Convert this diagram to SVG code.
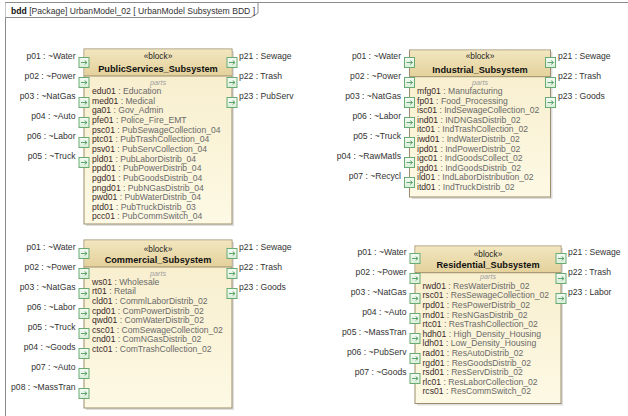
<svg xmlns="http://www.w3.org/2000/svg" width="628" height="416" viewBox="0 0 628 416">
<style>
text{font-family:"Liberation Sans",Arial,sans-serif;font-size:8.6px;fill:#333}
.r{text-anchor:end}
.st{font-size:8.3px;text-anchor:middle;fill:#222}
.nm{font-size:9.2px;font-weight:bold;text-anchor:middle;fill:#111}
.pt{font-size:7.2px;font-style:italic;text-anchor:middle;fill:#a0a0a0}
.prt{fill:#6a6a6a}
.pn{fill:#3b2a2a}
.body{fill:url(#bodyG);stroke:#9c8d6c;stroke-width:1}
.head{fill:url(#headG)}
.sep{stroke:#9c8d6c;stroke-width:1}
.shadow{fill:#000;opacity:.13}
.frame{fill:none;stroke:#8c8c8c;stroke-width:1}
</style>
<defs>
<linearGradient id="headG" x1="0" y1="0" x2="0" y2="1">
<stop offset="0" stop-color="#f2e6bf"/><stop offset="1" stop-color="#e4d19b"/>
</linearGradient>
<linearGradient id="bodyG" x1="0" y1="0" x2="0" y2="1">
<stop offset="0" stop-color="#f7edcb"/><stop offset="1" stop-color="#fdf9e4"/>
</linearGradient>
<linearGradient id="portG" x1="0" y1="0" x2="0" y2="1">
<stop offset="0" stop-color="#f5fbf5"/><stop offset="1" stop-color="#d9eed9"/>
</linearGradient>
<g id="port">
<rect x="0.5" y="0.5" width="10" height="10" fill="url(#portG)" stroke="#6aab74" stroke-width="1"/>
<path d="M2.5,5.5H8.3M6.2,3.6L8.5,5.5L6.2,7.4" fill="none" stroke="#4f9a5d" stroke-width="0.9"/>
</g>
</defs>

<g id="frame">
<rect class="frame" x="5.5" y="2.5" width="660" height="440"/>
<path d="M5.5,2.5H258V13L251,17.5H5.5" fill="#fff" stroke="#8c8c8c" stroke-width="1"/>
<text x="11" y="14"><tspan font-weight="bold" fill="#111">bdd</tspan> [Package] UrbanModel_02 [ UrbanModel Subsystem BDD ]</text>
</g>

<g id="connectors"></g>

<g id="PublicServices_Subsystem">
<rect class="shadow" x="86" y="51" width="148" height="175"/>
<rect class="body" x="84" y="49" width="148" height="175"/>
<rect class="head" x="84.5" y="49.5" width="147" height="26.5"/>
<line class="sep" x1="84" y1="76" x2="232" y2="76"/>
<text class="st" x="158" y="59">«block»</text>
<text class="nm" x="158" y="72">PublicServices_Subsystem</text>
<text class="pt" x="158" y="84.5">parts</text>
<text class="prt" x="92" y="94"><tspan class="pn">edu01</tspan> : Education</text>
<text class="prt" x="92" y="103.65"><tspan class="pn">med01</tspan> : Medical</text>
<text class="prt" x="92" y="113.3"><tspan class="pn">ga01</tspan> : Gov_Admin</text>
<text class="prt" x="92" y="122.95"><tspan class="pn">pfe01</tspan> : Police_Fire_EMT</text>
<text class="prt" x="92" y="132.6"><tspan class="pn">psc01</tspan> : PubSewageCollection_04</text>
<text class="prt" x="92" y="142.25"><tspan class="pn">ptc01</tspan> : PubTrashCollection_04</text>
<text class="prt" x="92" y="151.9"><tspan class="pn">psv01</tspan> : PubServCollection_04</text>
<text class="prt" x="92" y="161.55"><tspan class="pn">pld01</tspan> : PubLaborDistrib_04</text>
<text class="prt" x="92" y="171.2"><tspan class="pn">ppd01</tspan> : PubPowerDistrib_04</text>
<text class="prt" x="92" y="180.85"><tspan class="pn">pgd01</tspan> : PubGoodsDistrib_04</text>
<text class="prt" x="92" y="190.5"><tspan class="pn">pngd01</tspan> : PubNGasDistrib_04</text>
<text class="prt" x="92" y="200.15"><tspan class="pn">pwd01</tspan> : PubWaterDistrib_04</text>
<text class="prt" x="92" y="209.8"><tspan class="pn">ptd01</tspan> : PubTruckDistrib_03</text>
<text class="prt" x="92" y="219.45"><tspan class="pn">pcc01</tspan> : PubCommSwitch_04</text>
<use href="#port" x="78.5" y="57"/><use href="#port" x="78.5" y="77"/><use href="#port" x="78.5" y="97"/>
<use href="#port" x="78.5" y="117"/><use href="#port" x="78.5" y="137"/><use href="#port" x="78.5" y="157"/>
<use href="#port" x="226.5" y="57"/><use href="#port" x="226.5" y="77"/><use href="#port" x="226.5" y="97"/>
<text class="r" x="75.5" y="59">p01 : ~Water</text>
<text class="r" x="75.5" y="79">p02 : ~Power</text>
<text class="r" x="75.5" y="99">p03 : ~NatGas</text>
<text class="r" x="75.5" y="119">p04 : ~Auto</text>
<text class="r" x="75.5" y="139">p06 : ~Labor</text>
<text class="r" x="75.5" y="159">p05 : ~Truck</text>
<text x="239" y="59">p21 : Sewage</text>
<text x="239" y="79">p22 : Trash</text>
<text x="239" y="99">p23 : PubServ</text>
</g>

<g id="Industrial_Subsystem">
<rect class="shadow" x="411.5" y="52" width="141" height="147"/>
<rect class="body" x="409.5" y="50" width="141" height="147"/>
<rect class="head" x="410" y="50.5" width="140" height="26.2"/>
<line class="sep" x1="409.5" y1="76.7" x2="550.5" y2="76.7"/>
<text class="st" x="480" y="59">«block»</text>
<text class="nm" x="480" y="72.5">Industrial_Subsystem</text>
<text class="pt" x="480" y="85">parts</text>
<text class="prt" x="417" y="94"><tspan class="pn">mfg01</tspan> : Manufacturing</text>
<text class="prt" x="417" y="103.6"><tspan class="pn">fp01</tspan> : Food_Processing</text>
<text class="prt" x="417" y="113.2"><tspan class="pn">isc01</tspan> : IndSewageCollection_02</text>
<text class="prt" x="417" y="122.8"><tspan class="pn">ind01</tspan> : INDNGasDistrib_02</text>
<text class="prt" x="417" y="132.4"><tspan class="pn">itc01</tspan> : IndTrashCollection_02</text>
<text class="prt" x="417" y="142"><tspan class="pn">iwd01</tspan> : IndWaterDistrib_02</text>
<text class="prt" x="417" y="151.6"><tspan class="pn">ipd01</tspan> : IndPowerDistrib_02</text>
<text class="prt" x="417" y="161.2"><tspan class="pn">igc01</tspan> : IndGoodsCollect_02</text>
<text class="prt" x="417" y="170.8"><tspan class="pn">igd01</tspan> : IndGoodsDistrib_02</text>
<text class="prt" x="417" y="180.4"><tspan class="pn">ild01</tspan> : IndLaborDistribution_02</text>
<text class="prt" x="417" y="190"><tspan class="pn">itd01</tspan> : IndTruckDistrib_02</text>
<use href="#port" x="404" y="57"/><use href="#port" x="404" y="77"/><use href="#port" x="404" y="97"/>
<use href="#port" x="404" y="117"/><use href="#port" x="404" y="137"/><use href="#port" x="404" y="157"/>
<use href="#port" x="404" y="177"/>
<use href="#port" x="545" y="57"/><use href="#port" x="545" y="77"/><use href="#port" x="545" y="97"/>
<text class="r" x="401" y="58.7">p01 : ~Water</text>
<text class="r" x="401" y="78.7">p02 : ~Power</text>
<text class="r" x="401" y="98.7">p03 : ~NatGas</text>
<text class="r" x="401" y="118.7">p06 : ~Labor</text>
<text class="r" x="401" y="138.7">p05 : ~Truck</text>
<text class="r" x="401" y="158.7">p04 : ~RawMatls</text>
<text class="r" x="401" y="178.7">p07 : ~Recycl</text>
<text x="558" y="58.7">p21 : Sewage</text>
<text x="558" y="78.7">p22 : Trash</text>
<text x="558" y="98.7">p23 : Goods</text>
</g>

<g id="Commercial_Subsystem">
<rect class="shadow" x="86" y="242" width="148" height="168"/>
<rect class="body" x="84" y="240" width="148" height="168"/>
<rect class="head" x="84.5" y="240.5" width="147" height="26.5"/>
<line class="sep" x1="84" y1="267" x2="232" y2="267"/>
<text class="st" x="158" y="251.5">«block»</text>
<text class="nm" x="158" y="262.5">Commercial_Subsystem</text>
<text class="pt" x="158" y="275.5">parts</text>
<text class="prt" x="92" y="284.7"><tspan class="pn">ws01</tspan> : Wholesale</text>
<text class="prt" x="92" y="294.3"><tspan class="pn">rt01</tspan> : Retail</text>
<text class="prt" x="92" y="303.9"><tspan class="pn">cld01</tspan> : CommlLaborDistrib_02</text>
<text class="prt" x="92" y="313.5"><tspan class="pn">cpd01</tspan> : ComPowerDistrib_02</text>
<text class="prt" x="92" y="323.1"><tspan class="pn">qwd01</tspan> : ComWaterDistrib_02</text>
<text class="prt" x="92" y="332.7"><tspan class="pn">csc01</tspan> : ComSewageCollection_02</text>
<text class="prt" x="92" y="342.3"><tspan class="pn">cnd01</tspan> : ComNGasDistrib_02</text>
<text class="prt" x="92" y="351.9"><tspan class="pn">ctc01</tspan> : ComTrashCollection_02</text>
<use href="#port" x="78.5" y="248"/><use href="#port" x="78.5" y="268"/><use href="#port" x="78.5" y="288"/>
<use href="#port" x="78.5" y="308"/><use href="#port" x="78.5" y="328"/><use href="#port" x="78.5" y="348"/>
<use href="#port" x="78.5" y="368"/><use href="#port" x="78.5" y="388"/>
<use href="#port" x="226.5" y="248"/><use href="#port" x="226.5" y="268"/><use href="#port" x="226.5" y="288"/>
<text class="r" x="75.5" y="249.7">p01 : ~Water</text>
<text class="r" x="75.5" y="269.7">p02 : ~Power</text>
<text class="r" x="75.5" y="289.7">p03 : ~NatGas</text>
<text class="r" x="75.5" y="309.7">p06 : ~Labor</text>
<text class="r" x="75.5" y="329.7">p05 : ~Truck</text>
<text class="r" x="75.5" y="349.7">p04 : ~Goods</text>
<text class="r" x="75.5" y="369.7">p07 : ~Auto</text>
<text class="r" x="75.5" y="389.7">p08 : ~MassTran</text>
<text x="239" y="249.7">p21 : Sewage</text>
<text x="239" y="269.7">p22 : Trash</text>
<text x="239" y="289.7">p23 : Goods</text>
</g>

<g id="Residential_Subsystem">
<rect class="shadow" x="417" y="248" width="146" height="157.5"/>
<rect class="body" x="415" y="246" width="146" height="157.5"/>
<rect class="head" x="415.5" y="246.5" width="145" height="26.2"/>
<line class="sep" x1="415" y1="272.7" x2="561" y2="272.7"/>
<text class="st" x="488" y="257">«block»</text>
<text class="nm" x="488" y="268.3">Residential_Subsystem</text>
<text class="pt" x="488" y="279.3">parts</text>
<text class="prt" x="422.5" y="288.8"><tspan class="pn">rwd01</tspan> : ResWaterDistrib_02</text>
<text class="prt" x="422.5" y="298.4"><tspan class="pn">rsc01</tspan> : ResSewageCollection_02</text>
<text class="prt" x="422.5" y="308"><tspan class="pn">rpd01</tspan> : ResPowerDistrib_02</text>
<text class="prt" x="422.5" y="317.6"><tspan class="pn">rnd01</tspan> : ResNGasDistrib_02</text>
<text class="prt" x="422.5" y="327.2"><tspan class="pn">rtc01</tspan> : ResTrashCollection_02</text>
<text class="prt" x="422.5" y="336.8"><tspan class="pn">hdh01</tspan> : High_Density_Housing</text>
<text class="prt" x="422.5" y="346.4"><tspan class="pn">ldh01</tspan> : Low_Density_Housing</text>
<text class="prt" x="422.5" y="356"><tspan class="pn">rad01</tspan> : ResAutoDistrib_02</text>
<text class="prt" x="422.5" y="365.6"><tspan class="pn">rgd01</tspan> : ResGoodsDistrib_02</text>
<text class="prt" x="422.5" y="375.2"><tspan class="pn">rsd01</tspan> : ResServDistrib_02</text>
<text class="prt" x="422.5" y="384.8"><tspan class="pn">rlc01</tspan> : ResLaborCollection_02</text>
<text class="prt" x="422.5" y="394.4"><tspan class="pn">rcs01</tspan> : ResCommSwitch_02</text>
<use href="#port" x="409.5" y="253"/><use href="#port" x="409.5" y="273"/><use href="#port" x="409.5" y="293"/>
<use href="#port" x="409.5" y="313"/><use href="#port" x="409.5" y="333"/><use href="#port" x="409.5" y="353"/>
<use href="#port" x="409.5" y="373"/>
<use href="#port" x="555.5" y="253"/><use href="#port" x="555.5" y="273"/><use href="#port" x="555.5" y="293"/>
<text class="r" x="406.5" y="254.7">p01 : ~Water</text>
<text class="r" x="406.5" y="274.7">p02 : ~Power</text>
<text class="r" x="406.5" y="294.7">p03 : ~NatGas</text>
<text class="r" x="406.5" y="314.7">p04 : ~Auto</text>
<text class="r" x="406.5" y="334.7">p05 : ~MassTran</text>
<text class="r" x="406.5" y="354.7">p06 : ~PubServ</text>
<text class="r" x="406.5" y="374.7">p07 : ~Goods</text>
<text x="568" y="254.7">p21 : Sewage</text>
<text x="568" y="274.7">p22 : Trash</text>
<text x="568" y="294.7">p23 : Labor</text>
</g>
</svg>
